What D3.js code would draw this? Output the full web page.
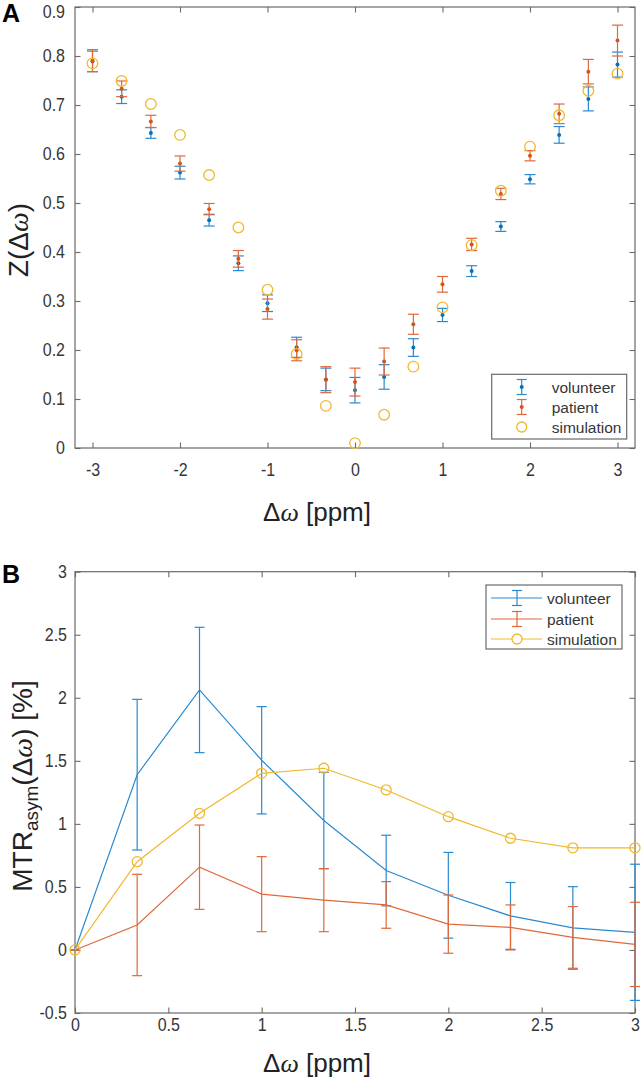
<!DOCTYPE html>
<html><head><meta charset="utf-8">
<script src="https://cdn.jsdelivr.net/npm/d3@7"></script>
<style>
body{margin:0;background:#fff}
svg{display:block}
text{font-family:"Liberation Sans",Arial,Helvetica,sans-serif}
</style>
</head><body>
<svg id="c" width="642" height="1084"></svg>
<script>
// ---------- data: panel A (Z-spectrum) ----------
const dwA = [-3, -2.667, -2.333, -2, -1.667, -1.333, -1, -0.667, -0.333, 0, 0.333, 0.667, 1, 1.333, 1.667, 2, 2.333, 2.667, 3];
const volA    = [0.789, 0.717, 0.643, 0.562, 0.465, 0.377, 0.2955, 0.2055, 0.140, 0.118, 0.145, 0.205, 0.2715, 0.361, 0.452, 0.5485, 0.639, 0.7125, 0.7825];
const volErrA = [0.021, 0.014, 0.011, 0.013, 0.012, 0.015, 0.017, 0.0205, 0.023, 0.026, 0.025, 0.018, 0.0135, 0.011, 0.010, 0.0095, 0.017, 0.0245, 0.0255];
const patA    = [0.7905, 0.733, 0.6665, 0.5805, 0.4875, 0.386, 0.2835, 0.1995, 0.1395, 0.1345, 0.1765, 0.2525, 0.334, 0.4155, 0.5185, 0.5965, 0.682, 0.768, 0.8315];
const patErrA = [0.0225, 0.016, 0.0125, 0.0155, 0.0115, 0.017, 0.0205, 0.0215, 0.0265, 0.0285, 0.0275, 0.0205, 0.016, 0.0125, 0.0115, 0.0105, 0.020, 0.025, 0.0315];
const simA    = [0.785, 0.749, 0.702, 0.639, 0.557, 0.450, 0.323, 0.192, 0.086, 0.010, 0.068, 0.166, 0.287, 0.414, 0.525, 0.615, 0.679, 0.729, 0.764];

// ---------- data: panel B (MTR asym) ----------
const dwB = [0, 0.333, 0.667, 1, 1.333, 1.667, 2, 2.333, 2.667, 3];
const volB    = [0, 1.39, 2.062, 1.5045, 1.027, 0.63, 0.4335, 0.27, 0.1745, 0.14];
const volErrB = [0, 0.5975, 0.497, 0.4255, 0.382, 0.28, 0.34, 0.265, 0.3275, 0.54];
const patB    = [0, 0.198, 0.6565, 0.4425, 0.395, 0.357, 0.205, 0.1785, 0.0995, 0.044];
const patErrB = [0, 0.402, 0.3345, 0.2975, 0.25, 0.185, 0.231, 0.1785, 0.2445, 0.334];
const simB    = [0, 0.70, 1.084, 1.401, 1.441, 1.269, 1.057, 0.886, 0.81, 0.81];

// ---------- ticks & labels ----------
const ticksAx = [-3, -2, -1, 0, 1, 2, 3];
const ticksAy = [0, 0.1, 0.2, 0.3, 0.4, 0.5, 0.6, 0.7, 0.8, 0.9];
const ticksBx = [0, 0.5, 1, 1.5, 2, 2.5, 3];
const ticksBy = [-0.5, 0, 0.5, 1, 1.5, 2, 2.5, 3];
const seriesNames = ["volunteer", "patient", "simulation"];

// ---------- styles ----------
const COL = {vol: "#0072BD", pat: "#D95319", sim: "#EDB120"};
const LCOL = {vol: "#2a8ad0", pat: "#e0683b", sim: "#f0b92e"};
const AX = "#6a6a6a", TX = "#363636";
const TICK = 5.5, TICK_FS = 16, TICK_STRETCH = 1.13;

const svg = d3.select("#c");

const xA = d3.scaleLinear([-3.2, 3.2], [75, 635]);
const yA = d3.scaleLinear([0, 0.9], [448, 7]);
const xB = d3.scaleLinear([0, 3], [75, 635]);
const yB = d3.scaleLinear([-0.5, 3], [1013, 571.7]);

function styleAxis(sel) {
  sel.select(".domain").remove();
  sel.selectAll(".tick line").attr("stroke", AX).attr("stroke-width", 1.1);
  sel.selectAll(".tick text").attr("fill", TX).attr("font-size", TICK_FS)
     .attr("font-family", '"Liberation Sans",Arial,sans-serif')
     .attr("transform", `scale(1,${TICK_STRETCH})`);
}

function frame(x, y, xt, yt, fx, fy, padX, padY, topShift) {
  const [x0, x1] = x.range(), [y0, y1] = y.range();
  const g = svg.append("g");
  g.append("g").attr("transform", `translate(0,${y0})`)
    .call(d3.axisBottom(x).tickValues(xt).tickSize(-TICK).tickSizeOuter(0).tickPadding(padX).tickFormat(fx))
    .call(styleAxis);
  g.append("g").attr("transform", `translate(0,${y1})`)
    .call(d3.axisTop(x).tickValues(xt).tickSize(-TICK).tickSizeOuter(0).tickFormat(""))
    .call(styleAxis);
  const la = g.append("g").attr("transform", `translate(${x0},0)`)
    .call(d3.axisLeft(y).tickValues(yt).tickSize(-TICK).tickSizeOuter(0).tickPadding(padY).tickFormat(fy))
    .call(styleAxis);
  if (topShift) {
    la.selectAll(".tick text").filter(d => d === yt[yt.length - 1]).attr("y", topShift);
  }
  g.append("g").attr("transform", `translate(${x1},0)`)
    .call(d3.axisRight(y).tickValues(yt).tickSize(-TICK).tickSizeOuter(0).tickFormat(""))
    .call(styleAxis);
  g.append("rect").attr("x", x0).attr("y", y1).attr("width", x1 - x0).attr("height", y0 - y1)
    .attr("fill", "none").attr("stroke", AX).attr("stroke-width", 1.2);
  return g;
}

function errorbars(g, x, y, xs, vs, es, color, capW) {
  const eg = g.append("g").attr("stroke", color).attr("stroke-width", 1.2).attr("fill", "none");
  xs.forEach((d, i) => {
    const cx = x(d), lo = y(vs[i] - es[i]), hi = y(vs[i] + es[i]);
    eg.append("line").attr("x1", cx).attr("x2", cx).attr("y1", lo).attr("y2", hi);
    eg.append("line").attr("x1", cx - capW / 2).attr("x2", cx + capW / 2).attr("y1", lo).attr("y2", lo);
    eg.append("line").attr("x1", cx - capW / 2).attr("x2", cx + capW / 2).attr("y1", hi).attr("y2", hi);
  });
}

// ================= Panel A =================
const gA = frame(xA, yA, ticksAx, ticksAy, d => String(d), d => d === 0 ? "0" : d.toFixed(1), 13.5, 10, 4);

errorbars(gA, xA, yA, dwA, volA, volErrA, LCOL.vol, 11);
gA.append("g").selectAll("circle").data(dwA).join("circle")
  .attr("cx", d => xA(d)).attr("cy", (d, i) => yA(volA[i])).attr("r", 2).attr("fill", COL.vol);
errorbars(gA, xA, yA, dwA, patA, patErrA, LCOL.pat, 11);
gA.append("g").selectAll("circle").data(dwA).join("circle")
  .attr("cx", d => xA(d)).attr("cy", (d, i) => yA(patA[i])).attr("r", 2).attr("fill", COL.pat);
gA.append("g").selectAll("circle").data(dwA).join("circle")
  .attr("cx", d => xA(d)).attr("cy", (d, i) => yA(simA[i])).attr("r", 5.3)
  .attr("fill", "none").attr("stroke", LCOL.sim).attr("stroke-width", 1.3);

// legend A
{
  const lg = svg.append("g");
  lg.append("rect").attr("x", 491.7).attr("y", 374.3).attr("width", 135).attr("height", 64.7)
    .attr("fill", "#fff").attr("stroke", AX).attr("stroke-width", 1.2);
  const ys = [387, 407, 427], mx = 521.7;
  [["vol"], ["pat"]].forEach(([k], i) => {
    const yy = ys[i], c = LCOL[k];
    lg.append("line").attr("x1", mx).attr("x2", mx).attr("y1", yy - 7.5).attr("y2", yy + 7.5).attr("stroke", c).attr("stroke-width", 1.2);
    lg.append("line").attr("x1", mx - 5).attr("x2", mx + 5).attr("y1", yy - 7.5).attr("y2", yy - 7.5).attr("stroke", c).attr("stroke-width", 1.2);
    lg.append("line").attr("x1", mx - 5).attr("x2", mx + 5).attr("y1", yy + 7.5).attr("y2", yy + 7.5).attr("stroke", c).attr("stroke-width", 1.2);
    lg.append("circle").attr("cx", mx).attr("cy", yy).attr("r", 2).attr("fill", COL[k]);
  });
  lg.append("circle").attr("cx", mx).attr("cy", ys[2]).attr("r", 5).attr("fill", "none").attr("stroke", LCOL.sim).attr("stroke-width", 1.3);
  seriesNames.forEach((s, i) => {
    lg.append("text").attr("x", 551.7).attr("y", ys[i]).attr("dy", "0.36em")
      .attr("font-size", 15.5).attr("fill", TX).text(s);
  });
}

// ================= Panel B =================
const gB = frame(xB, yB, ticksBx, ticksBy, d => String(d), d => String(d), 5, 8, 0);
const line = d3.line().x(d => xB(d[0])).y(d => yB(d[1]));

gB.append("path").datum(dwB.map((d, i) => [d, volB[i]])).attr("d", line)
  .attr("fill", "none").attr("stroke", LCOL.vol).attr("stroke-width", 1.2);
errorbars(gB, xB, yB, dwB, volB, volErrB, LCOL.vol, 10);
gB.append("path").datum(dwB.map((d, i) => [d, patB[i]])).attr("d", line)
  .attr("fill", "none").attr("stroke", LCOL.pat).attr("stroke-width", 1.2);
errorbars(gB, xB, yB, dwB, patB, patErrB, LCOL.pat, 10);
gB.append("path").datum(dwB.map((d, i) => [d, simB[i]])).attr("d", line)
  .attr("fill", "none").attr("stroke", LCOL.sim).attr("stroke-width", 1.2);
gB.append("g").selectAll("circle").data(dwB).join("circle")
  .attr("cx", d => xB(d)).attr("cy", (d, i) => yB(simB[i])).attr("r", 5)
  .attr("fill", "none").attr("stroke", LCOL.sim).attr("stroke-width", 1.3);

// legend B
{
  const lg = svg.append("g");
  lg.append("rect").attr("x", 486).attr("y", 585).attr("width", 136).attr("height", 64)
    .attr("fill", "#fff").attr("stroke", AX).attr("stroke-width", 1.2);
  const ys = [598, 619, 639], mx = 517;
  ["vol", "pat", "sim"].forEach((k, i) => {
    const yy = ys[i], c = LCOL[k];
    lg.append("line").attr("x1", 491).attr("x2", 542).attr("y1", yy).attr("y2", yy).attr("stroke", c).attr("stroke-width", 1.2);
    if (i < 2) {
      lg.append("line").attr("x1", mx).attr("x2", mx).attr("y1", yy - 7.5).attr("y2", yy + 7.5).attr("stroke", c).attr("stroke-width", 1.2);
      lg.append("line").attr("x1", mx - 5).attr("x2", mx + 5).attr("y1", yy - 7.5).attr("y2", yy - 7.5).attr("stroke", c).attr("stroke-width", 1.2);
      lg.append("line").attr("x1", mx - 5).attr("x2", mx + 5).attr("y1", yy + 7.5).attr("y2", yy + 7.5).attr("stroke", c).attr("stroke-width", 1.2);
    } else {
      lg.append("circle").attr("cx", mx).attr("cy", yy).attr("r", 5).attr("fill", "#fff").attr("stroke", c).attr("stroke-width", 1.3);
    }
  });
  seriesNames.forEach((s, i) => {
    lg.append("text").attr("x", 547).attr("y", ys[i]).attr("dy", "0.36em")
      .attr("font-size", 15.5).attr("fill", TX).text(s);
  });
}

// ================= labels =================
function dwLabel(sel) {
  sel.append("tspan").text("Δ");
  sel.append("tspan").attr("font-family", '"Liberation Serif","DejaVu Serif",serif').attr("font-style", "italic").text("ω");
}
// x labels
[[317, 521], [317, 1072]].forEach(([x, y]) => {
  const t = svg.append("text").attr("x", x).attr("y", y).attr("text-anchor", "middle")
    .attr("font-size", 26).attr("fill", "#222");
  dwLabel(t);
  t.append("tspan").text(" [ppm]");
});
// y label A
{
  const t = svg.append("text").attr("transform", "translate(28,240) rotate(-90)")
    .attr("text-anchor", "middle").attr("font-size", 28).attr("fill", "#222");
  t.append("tspan").text("Z(");
  dwLabel(t);
  t.append("tspan").text(")");
}
// y label B
{
  const t = svg.append("text").attr("transform", "translate(32,786) rotate(-90)")
    .attr("text-anchor", "middle").attr("font-size", 28).attr("fill", "#222");
  t.append("tspan").text("MTR");
  t.append("tspan").attr("font-size", 19).attr("dy", 6).text("asym");
  t.append("tspan").attr("dy", -6).text("(");
  dwLabel(t);
  t.append("tspan").text(") [%]");
}
// panel letters
svg.append("text").attr("x", 2).attr("y", 22).attr("font-size", 25).attr("font-weight", "bold").attr("fill", "#000").text("A");
svg.append("text").attr("x", 2).attr("y", 583).attr("font-size", 25).attr("font-weight", "bold").attr("fill", "#000").text("B");
</script>
</body></html>
